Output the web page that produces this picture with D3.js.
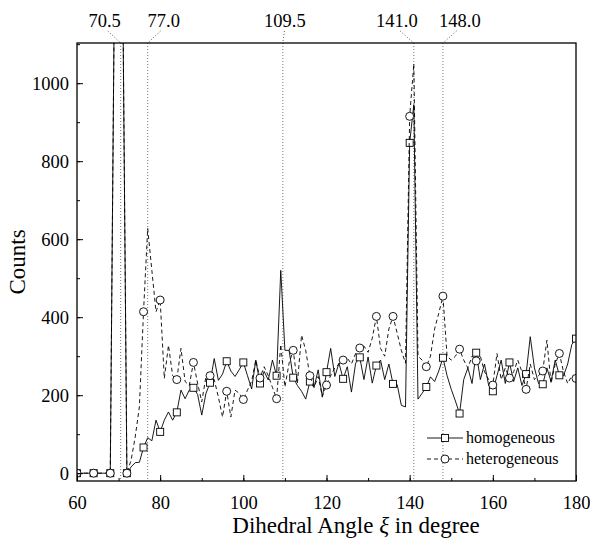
<!DOCTYPE html>
<html>
<head>
<meta charset="utf-8">
<script src="https://cdn.jsdelivr.net/npm/d3@7"></script>
<style>
  body { margin: 0; background: #fff; }
  svg { font-family: "Liberation Serif", "Times New Roman", serif; }
</style>
</head>
<body>
<div id="chart"></div>
<script>
// dihedral angle grid (degree)
var angles = d3.range(60, 181, 1);

// homogeneous counts, one per degree from 60 to 180
var homogeneous = [
    0, 0, 0, 0, 0, 0, 0, 0, 0,
    1250, 1400, 1250, 0,
    16, 27, 28, 66, 91, 83, 136, 106,
    136, 157, 136, 156, 213, 191, 213, 219,
    202, 149, 204, 232, 294, 238, 254, 287,
    262, 248, 265, 284, 250, 216, 290, 230,
    261, 239, 290, 250, 520, 315, 315, 245,
    225, 210, 190, 235, 220, 265, 195, 259,
    320, 248, 282, 242, 273, 208, 282, 297,
    240, 298, 231, 276, 290, 240, 280, 229,
    227, 174, 170, 847, 945, 190, 205, 221,
    247, 235, 262, 296, 250, 215, 185, 153,
    240, 270, 230, 309, 240, 280, 225, 210,
    250, 290, 230, 284, 235, 270, 225, 254,
    350, 270, 230, 228, 270, 235, 290, 251,
    250, 280, 330, 345
];

// heterogeneous counts
var heterogeneous = [
    0, 0, 0, 0, 0, 0, 0, 0, 0,
    1250, 1400, 1250, 0,
    33, 93, 170, 414, 628, 520, 414, 444,
    243, 328, 250, 240, 320, 235, 225, 284,
    231, 183, 247, 250, 240, 195, 144, 210,
    144, 213, 205, 189, 213, 236, 290, 244,
    273, 250, 220, 191, 330, 221, 282, 315,
    231, 354, 315, 250, 220, 248, 197, 226,
    250, 270, 280, 290, 295, 280, 307, 321,
    326, 310, 346, 402, 320, 300, 370, 402,
    359, 315, 282, 915, 1050, 300, 290, 273,
    300, 370, 410, 454, 300, 290, 300, 318,
    290, 270, 300, 288, 300, 260, 240, 226,
    307, 240, 270, 244, 260, 290, 260, 215,
    280, 240, 250, 262, 341, 230, 280, 307,
    260, 230, 250, 243
];

// marked peak angles
var peaks = [70.5, 77.0, 109.5, 141.0, 148.0];
var peak_labels = ["70.5", "77.0", "109.5", "141.0", "148.0"];

var x_ticks = [60, 80, 100, 120, 140, 160, 180];
var y_ticks = [0, 200, 400, 600, 800, 1000];

var width = 590, height = 541;
var margin = {top: 43, right: 14, bottom: 60, left: 77};

var svg = d3.select("#chart").append("svg")
    .attr("width", width)
    .attr("height", height);

var x = d3.scaleLinear().domain([60, 180]).range([margin.left, width - margin.right]);
var y = d3.scaleLinear().domain([-20, 1103]).range([height - margin.bottom, margin.top]);

svg.append("clipPath").attr("id", "plot_clip")
    .append("rect")
    .attr("x", x(60)).attr("y", y(1103))
    .attr("width", x(180) - x(60)).attr("height", y(-20) - y(1103));

// peak guide lines
var guides = svg.append("g");
guides.selectAll("line.vline").data(peaks).enter().append("line")
    .attr("class", "vline")
    .attr("x1", function(d) { return x(d); })
    .attr("x2", function(d) { return x(d); })
    .attr("y1", y(1103)).attr("y2", y(-20))
    .attr("stroke", "#555").attr("stroke-width", 0.8)
    .attr("stroke-dasharray", "1,2");

var label_shift = [-16, 16, 2, -17, 17];
guides.selectAll("line.leader").data(peaks).enter().append("line")
    .attr("class", "leader")
    .attr("x1", function(d, i) { return x(d) + label_shift[i] * 0.8; })
    .attr("y1", 31)
    .attr("x2", function(d) { return x(d); })
    .attr("y2", y(1103))
    .attr("stroke", "#333").attr("stroke-width", 0.8)
    .attr("stroke-dasharray", "1,2");
guides.selectAll("text").data(peak_labels).enter().append("text")
    .attr("x", function(d, i) { return x(peaks[i]) + label_shift[i]; })
    .attr("y", 27)
    .attr("text-anchor", "middle")
    .attr("font-size", 18.5)
    .text(function(d) { return d; });

// series
var line = d3.line()
    .x(function(d) { return x(d[0]); })
    .y(function(d) { return y(d[1]); });

function draw_series(values, dash, marker) {
    var pts = angles.map(function(a, i) { return [a, values[i]]; });
    var g = svg.append("g").attr("clip-path", "url(#plot_clip)");
    g.append("path").datum(pts)
        .attr("d", line)
        .attr("fill", "none")
        .attr("stroke", "#000")
        .attr("stroke-width", 0.9)
        .attr("stroke-dasharray", dash);
    var marked = pts.filter(function(d) { return (d[0] - 60) % 4 === 0; });
    if (marker === "square") {
        g.selectAll("rect").data(marked).enter().append("rect")
            .attr("x", function(d) { return x(d[0]) - 3.5; })
            .attr("y", function(d) { return y(d[1]) - 3.5; })
            .attr("width", 7).attr("height", 7)
            .attr("fill", "#fff").attr("stroke", "#000").attr("stroke-width", 0.9);
    } else {
        g.selectAll("circle").data(marked).enter().append("circle")
            .attr("cx", function(d) { return x(d[0]); })
            .attr("cy", function(d) { return y(d[1]); })
            .attr("r", 4)
            .attr("fill", "#fff").attr("stroke", "#000").attr("stroke-width", 0.9);
    }
}
draw_series(homogeneous, null, "square");
draw_series(heterogeneous, "4,3", "circle");

// frame
svg.append("rect")
    .attr("x", x(60)).attr("y", y(1103))
    .attr("width", x(180) - x(60)).attr("height", y(-20) - y(1103))
    .attr("fill", "none").attr("stroke", "#000").attr("stroke-width", 1.3);

// axes with inward ticks
var x_axis = svg.append("g").attr("transform", "translate(0," + y(-20) + ")");
x_axis.call(d3.axisBottom(x).tickValues(d3.range(60, 181, 10)).tickSize(-3).tickFormat(""));
x_axis.call(function(g) { g.select(".domain").remove(); });
var x_major = svg.append("g").attr("transform", "translate(0," + y(-20) + ")")
    .call(d3.axisBottom(x).tickValues(x_ticks).tickSize(-6).tickPadding(15).tickFormat(d3.format("d")));
x_major.select(".domain").remove();
x_major.selectAll("text").attr("font-size", 18.5).attr("font-family", "Liberation Serif").attr("fill", "#000");

var y_axis = svg.append("g").attr("transform", "translate(" + x(60) + ",0)");
y_axis.call(d3.axisLeft(y).tickValues(d3.range(0, 1101, 100)).tickSize(-3).tickFormat(""));
y_axis.select(".domain").remove();
var y_major = svg.append("g").attr("transform", "translate(" + x(60) + ",0)")
    .call(d3.axisLeft(y).tickValues(y_ticks).tickSize(-6).tickPadding(8).tickFormat(d3.format("d")));
y_major.select(".domain").remove();
y_major.selectAll("text").attr("font-size", 18.5).attr("font-family", "Liberation Serif").attr("fill", "#000");

// axis titles
svg.append("text")
    .attr("transform", "translate(25," + ((y(-20) + y(1103)) / 2) + ") rotate(-90)")
    .attr("text-anchor", "middle")
    .attr("font-size", 23)
    .text("Counts");
var xt = svg.append("text")
    .attr("x", 356)
    .attr("y", 533)
    .attr("text-anchor", "middle")
    .attr("font-size", 23);
xt.append("tspan").text("Dihedral Angle ");
xt.append("tspan").attr("font-style", "italic").text("\u03BE");
xt.append("tspan").text(" in degree");

// legend
var legend = svg.append("g").attr("transform", "translate(427,438)");
var legend_items = [
    {name: "homogeneous", dash: null, marker: "square"},
    {name: "heterogeneous", dash: "4,3", marker: "circle"}
];
legend_items.forEach(function(item, i) {
    var row = legend.append("g").attr("transform", "translate(0," + (i * 21) + ")");
    row.append("line").attr("x1", 0).attr("x2", 36).attr("y1", 0).attr("y2", 0)
        .attr("stroke", "#000").attr("stroke-width", 0.9).attr("stroke-dasharray", item.dash);
    if (item.marker === "square") {
        row.append("rect").attr("x", 14.5).attr("y", -3.5).attr("width", 7).attr("height", 7)
            .attr("fill", "#fff").attr("stroke", "#000").attr("stroke-width", 0.9);
    } else {
        row.append("circle").attr("cx", 18).attr("cy", 0).attr("r", 4)
            .attr("fill", "#fff").attr("stroke", "#000").attr("stroke-width", 0.9);
    }
    row.append("text").attr("x", 39).attr("y", 5)
        .attr("font-size", 16)
        .text(item.name);
});
</script>
</body>
</html>
